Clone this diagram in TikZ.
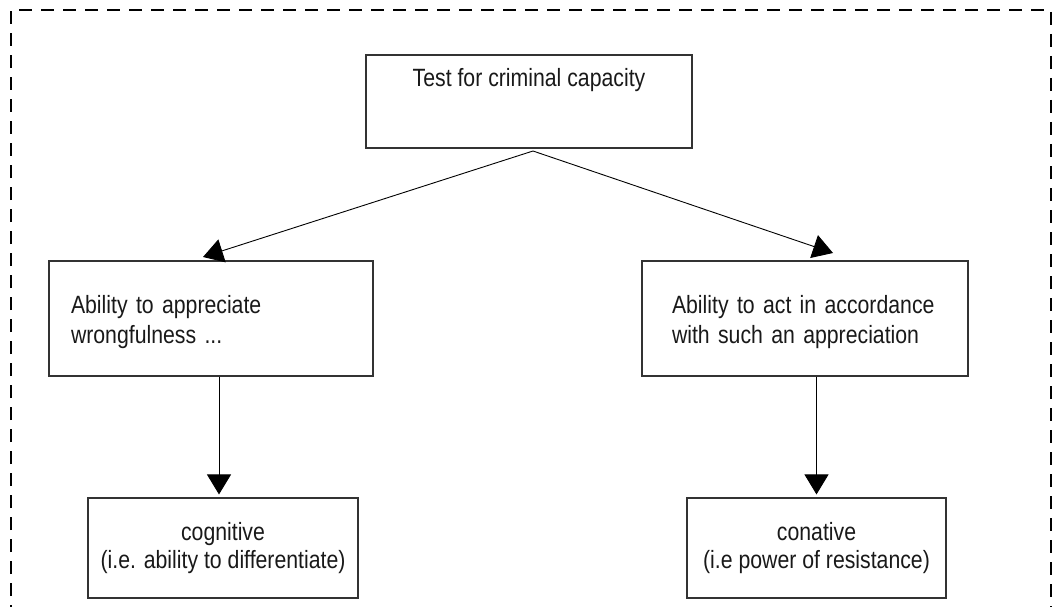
\documentclass[tikz,border=0pt]{standalone}
\usepackage{fontspec}
\setmainfont{Liberation Sans}[FakeStretch=0.85]
\usetikzlibrary{arrows.meta,calc}

\tikzset{
  box/.style={draw=black!80, line width=1.1pt, rectangle, inner ysep=0pt,
              text=black!90, font=\fontsize{25}{30}\selectfont},
  link/.style={draw=black, line width=0.9pt,
               -{Triangle[length=20pt,width=24pt]}},
  frame/.style={draw=black, line width=2.2pt, dash pattern=on 13pt off 9pt}
}

\begin{document}
\begin{tikzpicture}[x=1pt, y=-1pt]
  \useasboundingbox (0,0) rectangle (1052,607);

  % outer dashed frame (its lower edge runs off the page)
  \draw[frame] (11,640) -- (11,10) -- (1051,10) -- (1051,640);

  % top question
  \node[box, minimum width=326pt, minimum height=93pt,
        text height=18pt, text depth=47pt] (test) at (529,101.5)
        {Test for criminal capacity};

  % the two limbs of the test
  \node[box, align=left, text width=280pt, inner xsep=22pt,
        minimum height=115pt, text height=18pt, text depth=29pt]
        (know) at (211,318.5)
        {Ability to appreciate\\wrongfulness ...};
  \node[box, align=left, text width=266pt, inner xsep=30pt,
        minimum height=115pt, text height=18pt, text depth=29pt]
        (act) at (805,318.5)
        {Ability to act in accordance\\with such an appreciation};

  % what each limb amounts to
  \node[box, align=center, minimum width=270pt, minimum height=100pt,
        font=\fontsize{25}{28}\selectfont, text height=46pt, text depth=6pt]
        (cog) at (223,548)
        {cognitive\\(i.e. ability to differentiate)};
  \node[box, align=center, minimum width=259pt, minimum height=100pt,
        font=\fontsize{25}{28}\selectfont, text height=46pt, text depth=6pt]
        (con) at (816.5,548)
        {conative\\(i.e power of resistance)};

  % connectors
  \coordinate (fork) at (533,151);
  \coordinate (knowtip) at (203,257);
  \coordinate (acttip) at (833,253);
  \draw[link] (fork) -- (knowtip);
  \draw[link] (fork) -- (acttip);

  \draw[link, shorten >=3pt] ([xshift=-4pt]cog.north |- know.south)
        -- ([xshift=-4pt]cog.north);
  \draw[link, shorten >=3pt] (con.north |- act.south) -- (con.north);
\end{tikzpicture}
\end{document}
